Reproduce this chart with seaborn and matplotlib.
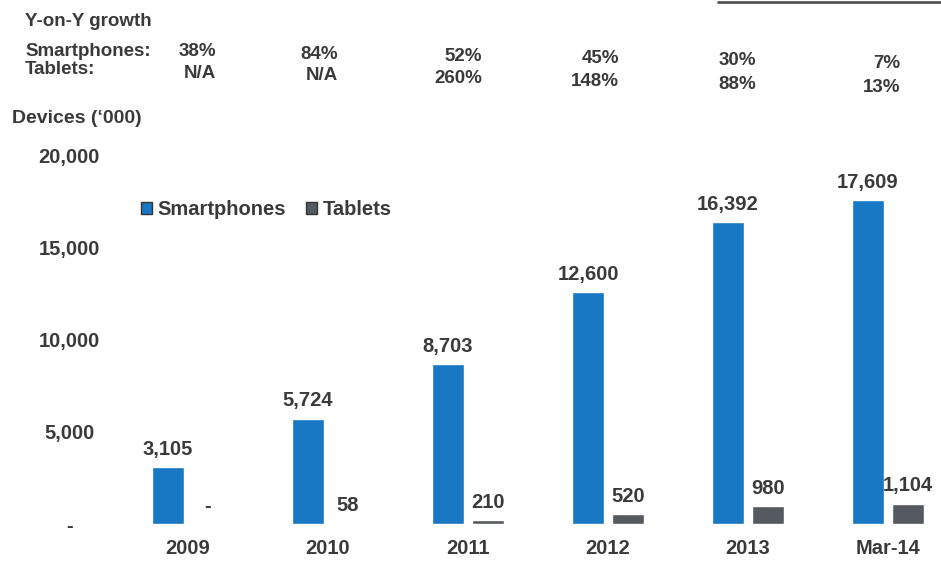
import matplotlib
matplotlib.use("Agg")
import matplotlib.pyplot as plt
from matplotlib.lines import Line2D
import pandas as pd
import seaborn as sns

# Devices ('000) by period
periods = ["2009", "2010", "2011", "2012", "2013", "Mar-14"]
smartphones = [3105, 5724, 8703, 12600, 16392, 17609]
tablets = [0, 58, 210, 520, 980, 1104]
smartphone_labels = ["3,105", "5,724", "8,703", "12,600", "16,392", "17,609"]
tablet_labels = ["-", "58", "210", "520", "980", "1,104"]

# Year-on-year growth rows shown above the chart
smartphone_growth = ["38%", "84%", "52%", "45%", "30%", "7%"]
tablet_growth = ["N/A", "N/A", "260%", "148%", "88%", "13%"]

y_ticks = [0, 5000, 10000, 15000, 20000]
y_tick_labels = ["-", "5,000", "10,000", "15,000", "20,000"]

BLUE = "#1878c4"
GREY = "#555a60"
TEXT = "#3a3a3a"
FS = 14.5

sns.set_theme(style="white")
plt.rcParams["font.family"] = ["Liberation Sans", "DejaVu Sans"]

df = pd.DataFrame({
    "period": periods * 2,
    "devices": smartphones + tablets,
    "type": ["Smartphones"] * len(periods) + ["Tablets"] * len(periods),
})

fig = plt.figure(figsize=(9.41, 5.68), dpi=100)
ax = fig.add_axes([111 / 941, 44 / 568, 819 / 941, 368 / 568])

sns.barplot(data=df, x="period", y="devices", hue="type", order=periods,
            hue_order=["Smartphones", "Tablets"],
            palette={"Smartphones": BLUE, "Tablets": GREY},
            width=0.57, gap=0.18, saturation=1, ax=ax, legend=True)

ax.set_xlim(-0.55, 5.3)
ax.set_ylim(0, 20000)
ax.set_yticks(y_ticks)
ax.set_yticklabels(y_tick_labels, fontsize=FS, fontweight="bold", color=TEXT)
for lbl in ax.get_yticklabels():
    lbl.set_horizontalalignment("center")
ax.tick_params(axis="y", length=0, pad=30)
ax.tick_params(axis="x", length=0, pad=11, labelsize=FS, labelcolor=TEXT)
for lbl in ax.get_xticklabels():
    lbl.set_fontweight("bold")
ax.set_xlabel("")
ax.set_ylabel("")
for s in ax.spines.values():
    s.set_visible(False)

# Value labels above each bar
for container, labels in zip(ax.containers, [smartphone_labels, tablet_labels]):
    ax.bar_label(container, labels=labels, padding=6, fontsize=FS,
                 fontweight="bold", color=TEXT)

leg = ax.legend(loc="upper left", bbox_to_anchor=(0.015, 0.93), ncol=2,
                frameon=False, handlelength=0.55, handleheight=0.55,
                handletextpad=0.25, columnspacing=1.0,
                prop={"size": FS, "weight": "bold"})
for t in leg.get_texts():
    t.set_color(TEXT)
for h in leg.legend_handles:
    h.set_edgecolor("#333333")
    h.set_linewidth(1.0)


def px_text(x, y, s, **kw):
    """Place text at a pixel position measured from the top-left corner."""
    fig.text(x / 941, 1 - y / 568, s, fontweight="bold", color=TEXT,
             va="center", **kw)


# Growth header
px_text(25, 21, "Y-on-Y growth", fontsize=FS - 1, ha="left")
px_text(25, 52, "Smartphones:", fontsize=FS - 1, ha="left")
px_text(25, 70, "Tablets:", fontsize=FS - 1, ha="left")

# growth columns sit just right of each bar group, right-aligned
col_shift = [0.2, 0.07, 0.1, 0.08, 0.06, 0.09]
for i, (sg, tg) in enumerate(zip(smartphone_growth, tablet_growth)):
    x_px = ax.transData.transform((i + col_shift[i], 0))[0]
    px_text(x_px, 52 + 2.2 * i, sg, fontsize=FS - 1, ha="right")
    px_text(x_px, 73 + 2.8 * i, tg, fontsize=FS - 1, ha="right")

px_text(12, 118, "Devices (\u2018000)", fontsize=FS - 0.5, ha="left")

fig.add_artist(Line2D([718 / 941, 1.0], [1 - 2 / 568, 1 - 2 / 568],
                      transform=fig.transFigure, color="#555555", lw=2))

fig.savefig("out.png", dpi=100, facecolor="white")
